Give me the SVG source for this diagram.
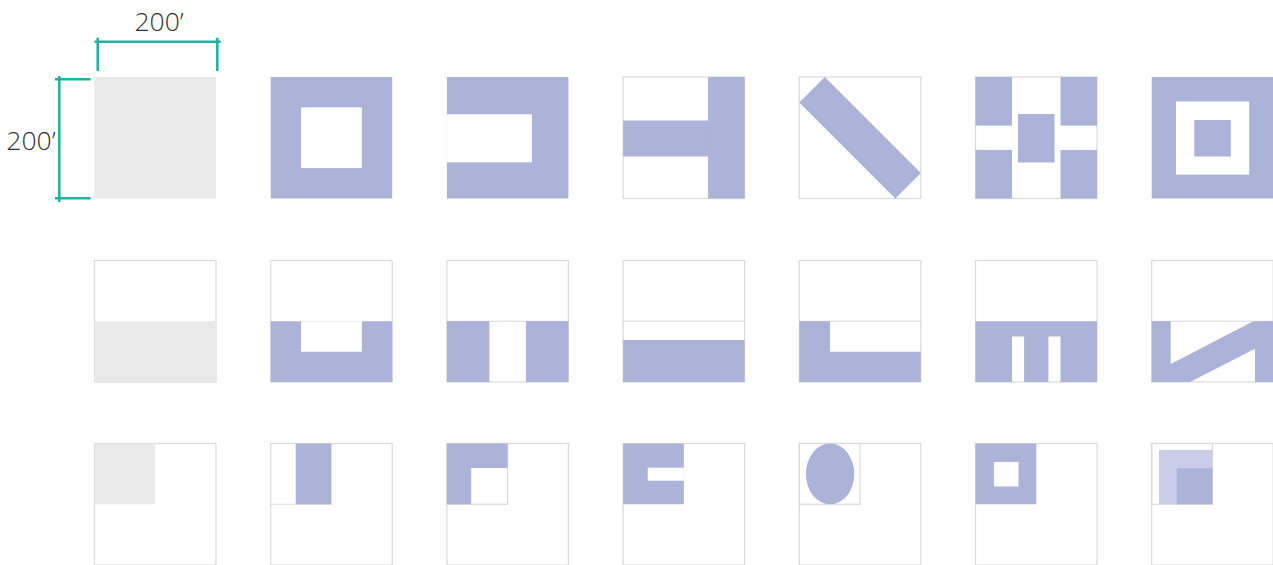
<svg xmlns="http://www.w3.org/2000/svg" width="1273" height="565" viewBox="0 0 1273 565">
<style>
.f{fill:#fff;stroke:#dadada;stroke-width:1.2}
.ln{fill:none;stroke:#dadada;stroke-width:1.2}
.b{fill:#abb3d8}
.lb{fill:#c9cde7}
.g{fill:#e9e9e9}
.w{fill:#fff}
.dim{stroke:#1db39e;stroke-width:2.5;fill:none}
.t{font-family:"Open Sans","Liberation Sans",sans-serif;font-size:26.5px;font-weight:300;fill:#333}
</style>
<rect width="1273" height="565" fill="#fff"/>
<g id="dimensions">
<path class="dim" d="M94.5 41.7H220.7M97.7 37.7V71M217.3 37.7V71"/>
<path class="dim" d="M59.3 76V202M55 79.3H90.7M55 198.3H90.7"/>
<text class="t" x="159" y="31" text-anchor="middle">200’</text>
<text class="t" x="55.5" y="149.5" text-anchor="end">200’</text>
</g>
<!-- Row 1 -->
<g id="r1c1" transform="translate(94.5,77)"><rect class="g" width="121.5" height="121.5"/></g>
<g id="r1c2" transform="translate(270.7,77)"><rect class="b" width="121.5" height="121.5"/><rect class="w" x="30.4" y="30.4" width="60.7" height="60.7"/></g>
<g id="r1c3" transform="translate(446.9,77)"><rect class="b" width="121.5" height="121.5"/><rect class="w" x="0" y="37.3" width="85" height="48"/></g>
<g id="r1c4" transform="translate(623.1,77)"><rect class="f" width="121.5" height="121.5"/><rect class="b" x="85" y="0" width="36.5" height="121.5"/><rect class="b" x="0" y="43.5" width="86" height="36"/></g>
<g id="r1c5" transform="translate(799.3,77)"><rect class="f" width="121.5" height="121.5"/><polygon class="b" points="0,25.5 25.5,0 121.5,96 96,121.5"/></g>
<g id="r1c6" transform="translate(975.5,77)"><rect class="f" width="121.5" height="121.5"/><rect class="b" x="0" y="0" width="36.5" height="48.6"/><rect class="b" x="85" y="0" width="36.5" height="48.6"/><rect class="b" x="0" y="72.9" width="36.5" height="48.6"/><rect class="b" x="85" y="72.9" width="36.5" height="48.6"/><rect class="b" x="42.5" y="37" width="36.5" height="48.5"/></g>
<g id="r1c7" transform="translate(1151.7,77)"><rect class="b" width="121.5" height="121.5"/><rect class="w" x="24.3" y="24.5" width="73.2" height="73.2"/><rect class="b" x="42.6" y="43" width="36.5" height="36.5"/></g>
<!-- Row 2 -->
<g id="r2c1" transform="translate(94.5,260.5)"><rect class="f" width="121.5" height="121.5"/><rect class="g" x="0" y="60.75" width="121.5" height="60.75"/></g>
<g id="r2c2" transform="translate(270.7,260.5)"><rect class="f" width="121.5" height="121.5"/><rect class="b" x="0" y="60.75" width="121.5" height="60.75"/><rect class="w" x="30.4" y="60.75" width="60.7" height="30.5"/></g>
<g id="r2c3" transform="translate(446.9,260.5)"><rect class="f" width="121.5" height="121.5"/><path class="ln" d="M0 60.75H121.5"/><rect class="b" x="0" y="60.75" width="42.5" height="60.75"/><rect class="b" x="79" y="60.75" width="42.5" height="60.75"/></g>
<g id="r2c4" transform="translate(623.1,260.5)"><rect class="f" width="121.5" height="121.5"/><path class="ln" d="M0 60.75H121.5"/><rect class="b" x="0" y="79.5" width="121.5" height="42"/></g>
<g id="r2c5" transform="translate(799.3,260.5)"><rect class="f" width="121.5" height="121.5"/><path class="ln" d="M0 60.75H121.5"/><path class="b" d="M0 60.75H30.7V91.2H121.5V121.5H0Z"/></g>
<g id="r2c6" transform="translate(975.5,260.5)"><rect class="f" width="121.5" height="121.5"/><path class="b" d="M0 60.75H121.5V121.5H85V76H72.9V121.5H48.6V76H36.5V121.5H0Z"/></g>
<g id="r2c7" transform="translate(1151.7,260.5)"><rect class="f" width="121.5" height="121.5"/><path class="ln" d="M0 60.75H121.5"/><path class="b" d="M0 60.75H19V103.5L101.6 60.75H121.5V121.5H103.3V88.2L38.3 121.5H0Z"/></g>
<!-- Row 3 -->
<g id="r3c1" transform="translate(94.5,443.5)"><rect class="f" width="121.5" height="121.5"/><rect class="g" x="0" y="0" width="60.75" height="60.75"/></g>
<g id="r3c2" transform="translate(270.7,443.5)"><rect class="f" width="121.5" height="121.5"/><path class="ln" d="M0 60.75H60.75"/><rect class="b" x="25" y="0" width="35.75" height="60.75"/></g>
<g id="r3c3" transform="translate(446.9,443.5)"><rect class="f" width="121.5" height="121.5"/><rect class="ln" x="0" y="0" width="60.75" height="60.75"/><path class="b" d="M0 0H60.75V24.5H24.3V60.75H0Z"/></g>
<g id="r3c4" transform="translate(623.1,443.5)"><rect class="f" width="121.5" height="121.5"/><rect class="b" x="0" y="0" width="60.75" height="60.75"/><rect class="w" x="24.6" y="24.2" width="36.15" height="13"/></g>
<g id="r3c5" transform="translate(799.3,443.5)"><rect class="f" width="121.5" height="121.5"/><rect class="ln" x="0" y="0" width="60.75" height="60.75"/><ellipse class="b" cx="30.8" cy="30.4" rx="24.2" ry="30.4"/></g>
<g id="r3c6" transform="translate(975.5,443.5)"><rect class="f" width="121.5" height="121.5"/><rect class="b" x="0" y="0" width="60.75" height="60.75"/><rect class="w" x="18.4" y="18.4" width="24.6" height="24.6"/></g>
<g id="r3c7" transform="translate(1151.7,443.5)"><rect class="f" width="121.5" height="121.5"/><rect class="ln" x="0" y="0" width="60.75" height="60.75"/><rect class="lb" x="7.3" y="6.5" width="53.45" height="54.25"/><rect class="b" x="25" y="24.8" width="35.75" height="35.95"/></g>
</svg>
